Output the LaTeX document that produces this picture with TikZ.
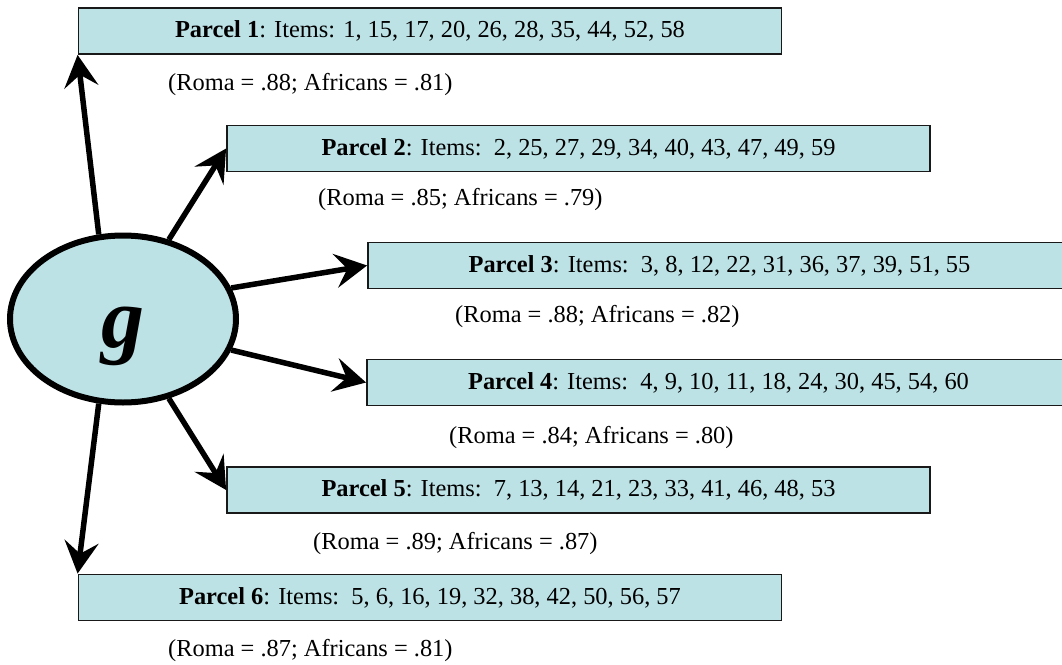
\documentclass[tikz,border=0pt]{standalone}
\usepackage{fontspec}
\setmainfont{Liberation Serif}
\usepackage{tikz}
\usetikzlibrary{shapes.geometric}
\usetikzlibrary{arrows.meta}
\definecolor{parcelfill}{RGB}{188,226,230}

\begin{document}
\begin{tikzpicture}[x=1pt,y=-1pt,
		parcel/.style={draw=black!90,line width=1.8pt,fill=parcelfill,minimum width=703pt,minimum height=46pt,inner sep=0pt,font=\fontsize{24.4}{29}\selectfont},
		rel/.style={anchor=west,inner sep=0pt,font=\fontsize{24.4}{29}\selectfont},
		load/.style={line width=5.5pt,-{Stealth[length=32pt,width=34pt,inset=12pt]}}]
					\clip (0,0) rectangle (1062,664);
					% the factor
					\node[ellipse,draw,line width=6pt,fill=parcelfill,minimum width=226pt,minimum height=167pt,inner sep=0pt,text height=56pt,text depth=0pt,font=\fontsize{86}{86}\selectfont\bfseries\itshape] (g) at (123,319) {g};
					% the parcels
					\node[parcel] (p1) at (430,31) {\textbf{Parcel 1}: Items: 1, 15, 17, 20, 26, 28, 35, 44, 52, 58};
					\node[parcel] (p2) at (578.5,148.5) {\textbf{Parcel 2}: Items:\ \ 2, 25, 27, 29, 34, 40, 43, 47, 49, 59};
					\node[parcel] (p3) at (719.5,265.5) {\textbf{Parcel 3}: Items:\ \ 3, 8, 12, 22, 31, 36, 37, 39, 51, 55};
					\node[parcel] (p4) at (718.5,382.5) {\textbf{Parcel 4}: Items:\ \ 4, 9, 10, 11, 18, 24, 30, 45, 54, 60};
					\node[parcel] (p5) at (578.5,490) {\textbf{Parcel 5}: Items:\ \ 7, 13, 14, 21, 23, 33, 41, 46, 48, 53};
					\node[parcel] (p6) at (430,597.5) {\textbf{Parcel 6}: Items:\ \ 5, 6, 16, 19, 32, 38, 42, 50, 56, 57};
					% reliabilities
					\node[rel] (r1) at (168,85) {(Roma = .88; Africans = .81)};
					\node[rel] (r2) at (318,200) {(Roma = .85; Africans = .79)};
					\node[rel] (r3) at (455,317) {(Roma = .88; Africans = .82)};
					\node[rel] (r4) at (449,437) {(Roma = .84; Africans = .80)};
					\node[rel] (r5) at (313,543) {(Roma = .89; Africans = .87)};
					\node[rel] (r6) at (168,650) {(Roma = .87; Africans = .81)};
					% loadings
					\draw[load] (g.106) -- (p1.south west);
					\draw[load] (g.60) -- (p2.west);
					\draw[load] (g.16) -- (p3.west);
					\draw[load] (g.-16) -- (p4.west);
					\draw[load] (g.-60) -- (p5.west);
					\draw[load] (g.-106) -- (p6.north west);
				\end{tikzpicture}
\end{document}
